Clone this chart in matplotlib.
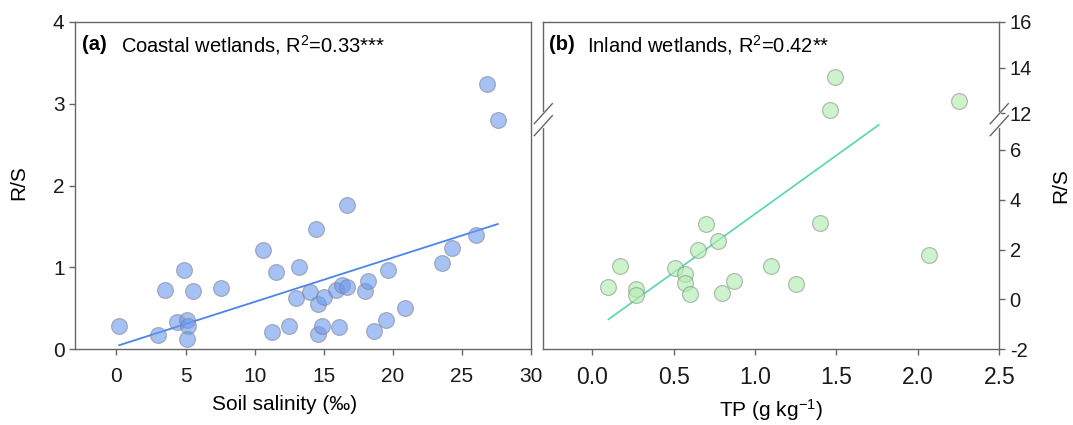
import matplotlib
matplotlib.use("Agg")
import matplotlib.pyplot as plt
import numpy as np

plt.rcParams['font.family'] = ['Liberation Sans', 'DejaVu Sans']
plt.rcParams['mathtext.fontset'] = 'custom'
plt.rcParams['mathtext.rm'] = 'Liberation Sans'
plt.rcParams['mathtext.it'] = 'Liberation Sans:italic'
plt.rcParams['mathtext.bf'] = 'Liberation Sans:bold'

# (a) coastal wetlands: soil salinity vs R/S
salinity = [0.17, 3.04, 3.52, 4.39, 4.92, 5.12, 5.17, 5.12, 5.52, 7.56,
            10.58, 11.28, 11.58, 12.5, 12.98, 13.2, 14.0, 14.47, 14.57, 14.57,
            14.9, 15.0, 15.9, 16.1, 16.32, 16.65, 16.7, 17.99, 18.22, 18.62,
            19.54, 19.64, 20.86, 23.53, 24.31, 26.05, 26.78, 27.58]
rs_coastal = [0.29, 0.17, 0.73, 0.33, 0.97, 0.36, 0.28, 0.12, 0.71, 0.75,
              1.21, 0.21, 0.94, 0.29, 0.63, 1.01, 0.70, 1.47, 0.55, 0.19,
              0.29, 0.64, 0.72, 0.27, 0.78, 0.76, 1.76, 0.71, 0.83, 0.22,
              0.36, 0.97, 0.50, 1.05, 1.24, 1.40, 3.24, 2.80]
fit_a_x = [0.2, 27.6]
fit_a_y = [0.05, 1.53]

# (b) inland wetlands: TP vs R/S
tp = [0.10, 0.17, 0.27, 0.27, 0.51, 0.57, 0.57, 0.60, 0.65, 0.70,
      0.77, 0.80, 0.87, 1.10, 1.25, 1.40, 2.07, 1.49, 1.46, 2.25]
rs_inland = [0.48, 1.35, 0.41, 0.17, 1.27, 1.00, 0.65, 0.21, 1.97, 3.04,
             2.33, 0.24, 0.72, 1.36, 0.60, 3.08, 1.77, 13.6, 12.17, 12.56]
fit_b_x = [0.10, 1.76]
fit_b_y = [-0.80, 7.0]

b_ticks = [-2, 0, 2, 4, 6, 12, 14, 16]

# broken y scale for panel b
low_top = 7.21
up_bot = 11.73
k = 0.92


def fwd(y):
    y = np.asarray(y, dtype=float)
    return np.where(y <= low_top, y,
                    np.where(y >= up_bot, low_top + (y - up_bot) * k, low_top))


def inv(t):
    t = np.asarray(t, dtype=float)
    return np.where(t <= low_top, t, up_bot + (t - low_top) / k)


fig = plt.figure(figsize=(10.73, 4.25), dpi=100)
W, H = 1073, 425
ax1 = fig.add_axes([75 / W, (425 - 349.3) / H, 456 / W, 327.6 / H])
ax2 = fig.add_axes([543.3 / W, (425 - 349.3) / H, 456 / W, 327.6 / H])

spine_c = '#666666'
for ax in (ax1, ax2):
    for s in ax.spines.values():
        s.set_color(spine_c)
        s.set_linewidth(1.0)
    ax.tick_params(direction='out', length=4, width=1.0, color=spine_c,
                   labelcolor='#1a1a1a')

# panel a
ax1.scatter(salinity, rs_coastal, s=130, facecolor=(0.42, 0.6, 0.93, 0.6),
            edgecolor=(0.5, 0.5, 0.55, 0.55), linewidth=0.9, zorder=3)
ax1.plot(fit_a_x, fit_a_y, color='#4a84f0', linewidth=1.3, zorder=2)
ax1.set_xlim(-3, 30)
ax1.set_ylim(0, 4)
ax1.set_xticks([0, 5, 10, 15, 20, 25, 30])
ax1.set_yticks([0, 1, 2, 3, 4])
ax1.tick_params(labelsize=15)
ax1.tick_params(axis='x', pad=9)
ax1.set_xlabel('Soil salinity (‰)', fontsize=15)
ax1.xaxis.set_label_coords(0.46, -0.14)
ax1.set_ylabel('R/S', fontsize=15)
ax1.yaxis.set_label_coords(-0.103, 0.51)
ax1.text(0.015, 0.93, '(a)', transform=ax1.transAxes, fontsize=14.5,
         fontweight='bold', va='center', ha='left')
ax1.text(0.1, 0.93, 'Coastal wetlands, R$^2$=0.33***', transform=ax1.transAxes,
         fontsize=14.5, va='center', ha='left')

# panel b
ax2.set_yscale('function', functions=(fwd, inv))
ax2.scatter(tp, rs_inland, s=130, facecolor=(0.7, 0.93, 0.7, 0.65),
            edgecolor=(0.5, 0.55, 0.5, 0.55), linewidth=0.9, zorder=3)
ax2.plot(fit_b_x, fit_b_y, color='#55d6ad', linewidth=1.2, zorder=2)
ax2.set_xlim(-0.3, 2.5)
ax2.set_ylim(-2, 16)
ax2.set_xticks([0.0, 0.5, 1.0, 1.5, 2.0, 2.5])
ax2.set_xticklabels(['0.0', '0.5', '1.0', '1.5', '2.0', '2.5'])
ax2.set_yticks(b_ticks)
ax2.set_yticklabels([str(v) for v in b_ticks])
ax2.yaxis.tick_right()
ax2.yaxis.set_label_position('right')
ax2.tick_params(axis='x', labelsize=16.5, pad=8)
ax2.tick_params(axis='y', labelsize=14.5)
ax2.yaxis.set_minor_locator(matplotlib.ticker.NullLocator())
ax2.set_xlabel('TP (g kg$^{-1}$)', fontsize=15)
ax2.xaxis.set_label_coords(0.5, -0.145)
ax2.set_ylabel('R/S', fontsize=15, labelpad=14)
ax2.text(0.0125, 0.93, '(b)', transform=ax2.transAxes, fontsize=14.5,
         fontweight='bold', va='center', ha='left')
ax2.text(0.095, 0.93, 'Inland wetlands, R$^2$=0.42**', transform=ax2.transAxes,
         fontsize=14.5, va='center', ha='left')

# break marks on both spines of panel b
fb = (low_top + 2) / (fwd(16) + 2)
dx = 9 / 456
dy = 10 / 327.6
gap = 6 / 327.6
for xs in (0, 1):
    ax2.plot([xs, xs], [fb - gap, fb + gap], transform=ax2.transAxes,
             color='white', linewidth=3, clip_on=False, zorder=5)
    for yc in (fb - gap, fb + gap):
        ax2.plot([xs - dx, xs + dx], [yc - dy, yc + dy], transform=ax2.transAxes,
                 color=spine_c, linewidth=1.0, clip_on=False, zorder=6)

fig.savefig('out.png', dpi=100)
